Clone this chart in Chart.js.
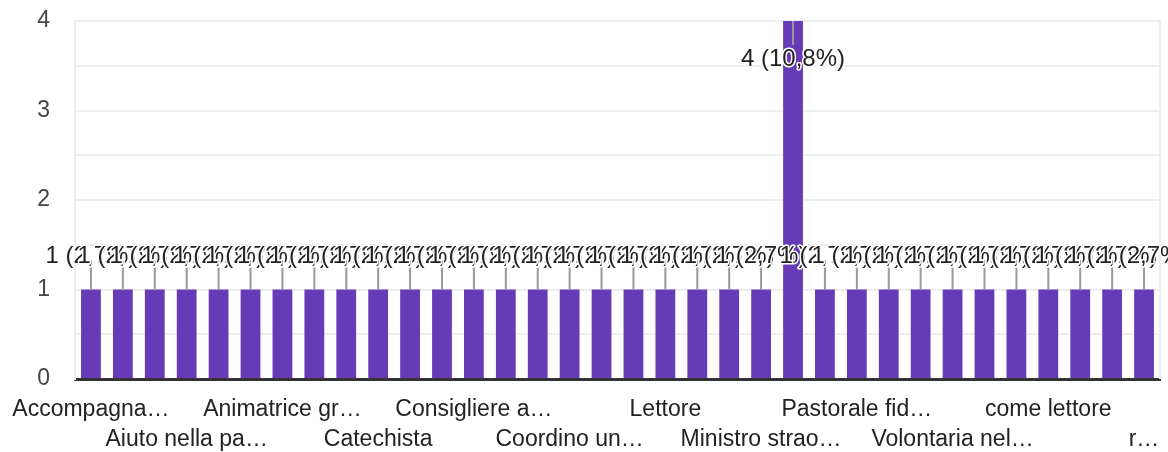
<!DOCTYPE html>
<html>
<head>
<meta charset="utf-8">
<script src="https://cdn.jsdelivr.net/npm/chart.js@4.4.1/dist/chart.umd.min.js"></script>
<style>
  html, body { margin: 0; padding: 0; background: #fff; }
  #wrap { width: 1168px; height: 452px; position: relative; }
</style>
</head>
<body>
<div id="wrap"><canvas id="grafico"></canvas></div>
<script>
// Categorie (solo quelle leggibili, le altre sono nascoste dal grafico)
const categories = [
  'Accompagna…', '', '', 'Aiuto nella pa…', '', '', 'Animatrice gr…', '', '',
  'Catechista', '', '', 'Consigliere a…', '', '', 'Coordino un…', '', '',
  'Lettore', '', '', 'Ministro strao…', '', '', 'Pastorale fid…', '', '',
  'Volontaria nel…', '', '', 'come lettore', '', '', 'r…'
];
// Numero di risposte per categoria
const risposte = [
  1, 1, 1, 1, 1, 1, 1, 1, 1, 1, 1, 1, 1, 1, 1, 1, 1, 1, 1, 1, 1, 1,
  4, 1, 1, 1, 1, 1, 1, 1, 1, 1, 1, 1
];
const yTicks = [0, 1, 2, 3, 4];

const totale = risposte.reduce((a, b) => a + b, 0);
const FONT = '"Liberation Sans", Arial, sans-serif';

// Etichette "n (x,y%)" con stelo grigio e alone bianco
const etichette = {
  id: 'etichette',
  beforeDatasetsDraw(chart) {
    const { ctx, chartArea } = chart;
    ctx.save();
    ctx.strokeStyle = '#eeeeee';
    ctx.lineWidth = 2;
    ctx.beginPath();
    ctx.moveTo(chartArea.right, chartArea.top);
    ctx.lineTo(chartArea.right, chartArea.bottom);
    ctx.stroke();
    ctx.restore();
  },
  afterDatasetsDraw(chart) {
    const { ctx, chartArea } = chart;
    const meta = chart.getDatasetMeta(0);
    const pos = meta.data.map((bar, i) => {
      const sopra = bar.y - 60 > chartArea.top;
      return {
        x: bar.x,
        y0: bar.y,
        y1: sopra ? bar.y - 22 : bar.y + 24,
        ty: sopra ? bar.y - 33 : bar.y + 38
      };
    });
    ctx.save();
    ctx.strokeStyle = '#999999';
    ctx.lineWidth = 2;
    pos.forEach(p => {
      ctx.beginPath();
      ctx.moveTo(p.x, p.y0);
      ctx.lineTo(p.x, p.y1);
      ctx.stroke();
    });
    ctx.font = '24px ' + FONT;
    ctx.textAlign = 'center';
    ctx.textBaseline = 'middle';
    ctx.lineJoin = 'round';
    pos.forEach((p, i) => {
      const perc = (risposte[i] / totale * 100).toFixed(1).replace('.', ',');
      const testo = risposte[i] + ' (' + perc + '%)';
      ctx.strokeStyle = '#ffffff';
      ctx.lineWidth = 3;
      ctx.strokeText(testo, p.x, p.ty);
      ctx.fillStyle = '#222222';
      ctx.fillText(testo, p.x, p.ty);
    });
    ctx.restore();
  }
};

new Chart(document.getElementById('grafico'), {
  type: 'bar',
  data: {
    labels: categories,
    datasets: [{
      data: risposte,
      backgroundColor: '#673ab7',
      barPercentage: 0.62,
      categoryPercentage: 1
    }]
  },
  options: {
    responsive: true,
    maintainAspectRatio: false,
    animation: false,
    layout: { padding: { top: 21, right: 8, left: 0, bottom: 0 } },
    plugins: { legend: { display: false }, tooltip: { enabled: false } },
    scales: {
      x: {
        afterFit(scale) { scale.height = 73; },
        grid: { display: false },
        border: { color: '#333333', width: 3 },
        ticks: {
          autoSkip: false,
          maxRotation: 0,
          minRotation: 0,
          padding: 8,
          color: '#222222',
          font: { family: FONT, size: 23, lineHeight: 1.3 },
          callback(v, i) {
            if (i % 6 === 0) return categories[i];
            if (i % 6 === 3) return ['', categories[i]];
            return '';
          }
        }
      },
      y: {
        min: 0,
        max: 4,
        afterFit(scale) {
          scale.width = 75;
          scale.paddingTop = 0;
          scale.paddingBottom = 0;
        },
        afterBuildTicks(scale) {
          const t = [];
          for (let v = 0; v <= 4; v += 0.5) t.push({ value: v });
          scale.ticks = t;
        },
        grid: { color: '#eeeeee', lineWidth: 2, drawTicks: false },
        border: { color: '#eeeeee', width: 2 },
        ticks: {
          padding: 25,
          color: '#444444',
          font: { family: FONT, size: 23 },
          callback(v) { return yTicks.includes(v) ? String(v) : ''; }
        }
      }
    }
  },
  plugins: [etichette]
});
</script>
</body>
</html>
